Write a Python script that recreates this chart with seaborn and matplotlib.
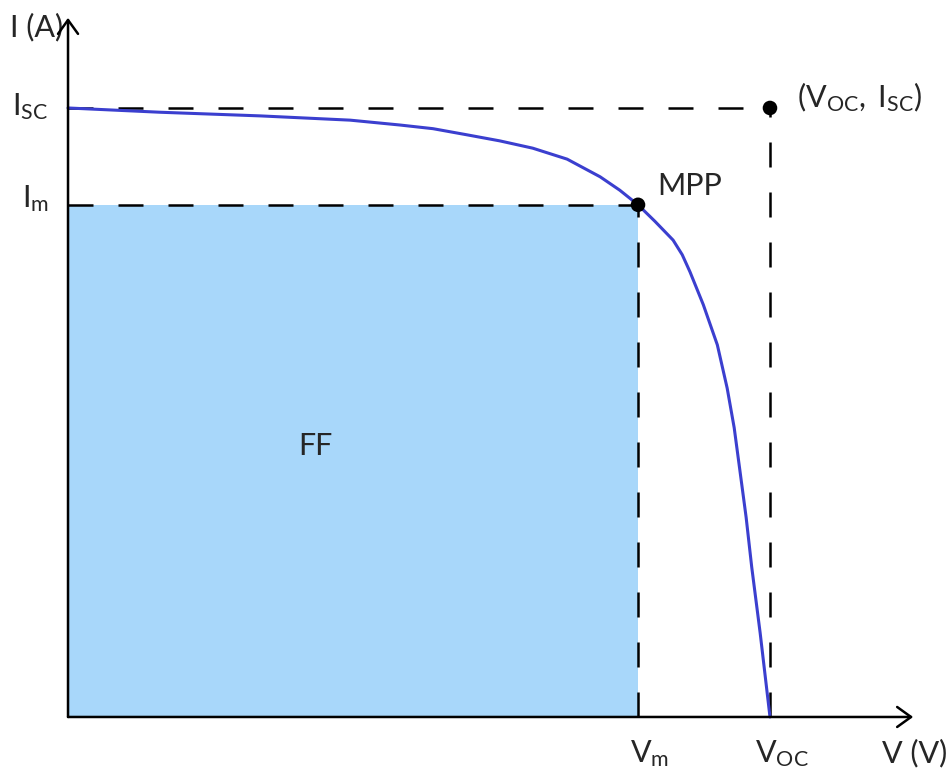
import matplotlib
matplotlib.use("Agg")
import matplotlib.pyplot as plt
import seaborn as sns
import pandas as pd

# I-V curve of a solar cell, normalised to Voc = 1 and Isc = 1
voltage = [0.000, 0.131, 0.274, 0.402, 0.473, 0.520, 0.568, 0.615, 0.662, 0.711,
           0.758, 0.786, 0.812, 0.836, 0.862, 0.875, 0.886, 0.905, 0.925, 0.939,
           0.949, 0.957, 0.966, 0.974, 0.986, 1.000]
current = [1.000, 0.993, 0.987, 0.980, 0.972, 0.966, 0.956, 0.946, 0.934, 0.916,
           0.887, 0.865, 0.841, 0.814, 0.783, 0.759, 0.731, 0.677, 0.611, 0.540,
           0.475, 0.406, 0.328, 0.246, 0.138, 0.000]

V_oc, I_sc = 1.000, 1.000
V_m, I_m = 0.812, 0.841

curve = pd.DataFrame({"V": voltage, "I": current})
points = pd.DataFrame({"V": [V_m, V_oc], "I": [I_m, I_sc]})

sns.set_style("white")
plt.rcParams["font.family"] = ["Lato", "DejaVu Sans"]
plt.rcParams["mathtext.fontset"] = "custom"
plt.rcParams["mathtext.rm"] = "Lato"
plt.rcParams["mathtext.it"] = "Lato:italic"

fig = plt.figure(figsize=(9.52, 7.78), dpi=100)
ax = fig.add_axes([0, 0, 1, 1])
ax.set_xlim(-0.0969, 1.2593)
ax.set_ylim(-0.1002, 1.1773)
ax.axis("off")

# fill-factor rectangle
ax.fill_between([0, V_m], 0, I_m, color="#A8D7FA", lw=0, zorder=1)

# guide lines
dash = dict(color="black", lw=1.8, linestyle=(0, (10, 10)), zorder=2)
ax.plot([0, V_oc], [I_sc, I_sc], **dash)
ax.plot([0, V_m], [I_m, I_m], **dash)
ax.plot([V_m, V_m], [0, I_m], **dash)
ax.plot([V_oc, V_oc], [0, I_sc], **dash)

# I-V curve
sns.lineplot(data=curve, x="V", y="I", sort=False, color="#3B3FCF", lw=2.2,
             ax=ax, zorder=3, legend=False, solid_joinstyle="round",
             solid_capstyle="round")
sns.scatterplot(data=points, x="V", y="I", color="black", s=110, ax=ax,
                zorder=5, edgecolor="none", legend=False)

# axes with arrow heads
arrow = dict(arrowstyle="->,head_length=0.5,head_width=0.36", lw=1.8,
             color="black", shrinkA=0, shrinkB=0, mutation_scale=20)
ax.annotate("", xy=(0, 1.148), xytext=(0, 0), arrowprops=arrow, zorder=6)
ax.annotate("", xy=(1.204, 0), xytext=(0, 0), arrowprops=arrow, zorder=6)

fs = 22
ax.text(-0.083, 1.117, "I (A)", fontsize=fs, ha="left", va="baseline")
ax.text(-0.028, 0.988, r"$\mathregular{I_{SC}}$", fontsize=fs, ha="right", va="baseline")
ax.text(-0.027, 0.837, r"$\mathregular{I_{m}}$", fontsize=fs, ha="right", va="baseline")
ax.text(0.839, 0.857, "MPP", fontsize=fs, ha="left", va="baseline")
ax.text(1.038, 1.002, r"$\mathregular{(V_{OC},\ I_{SC})}$", fontsize=fs, ha="left", va="baseline")
ax.text(0.801, -0.074, r"$\mathregular{V_{m}}$", fontsize=fs, ha="left", va="baseline")
ax.text(0.979, -0.074, r"$\mathregular{V_{OC}}$", fontsize=fs, ha="left", va="baseline")
ax.text(1.160, -0.074, "V (V)", fontsize=fs, ha="left", va="baseline")
ax.text(0.352, 0.430, "FF", fontsize=fs, ha="center", va="baseline")

fig.savefig("out.png", dpi=100)
